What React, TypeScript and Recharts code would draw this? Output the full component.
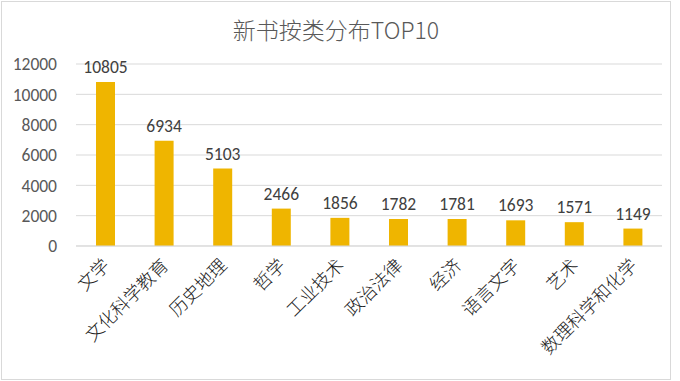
import React from "react";
import { BarChart, Bar, CartesianGrid, XAxis, YAxis, LabelList } from "recharts";

const categories = ["文学", "文化科学教育", "历史地理", "哲学", "工业技术", "政治法律", "经济", "语言文字", "艺术", "数理科学和化学"];
const counts = [10805, 6934, 5103, 2466, 1856, 1782, 1781, 1693, 1571, 1149];
const yTicks = [0, 2000, 4000, 6000, 8000, 10000, 12000];

const data = categories.map((name, i) => ({ name, count: counts[i] }));

const AngledTick = (props: any) => {
  const { x, y, payload } = props;
  return (
    <g transform={`translate(${x - 3},${y + 4})`}>
      <text
        textAnchor="end"
        transform="rotate(-45)"
        fontSize={18}
        fontWeight={300}
        fill="#222"
        fontFamily="'Noto Sans CJK SC', sans-serif"
        dy={12}
      >
        {payload.value}
      </text>
    </g>
  );
};

const App: React.FC = () => {
  return (
    <div
      style={{
        position: "absolute",
        left: 1,
        top: 1,
        width: 668,
        height: 377,
        border: "1px solid #d9d9d9",
        background: "#fff",
        fontFamily: "Calibri, Carlito, 'Liberation Sans', 'Noto Sans CJK SC', sans-serif",
      }}
    >
      <div
        style={{
          position: "absolute",
          top: 10,
          width: "100%",
          textAlign: "center",
          fontSize: 23,
          color: "#595959",
          fontFamily: "'Noto Sans CJK SC', sans-serif",
          fontWeight: 300,
        }}
      >
        新书按类分布TOP10
      </div>
      <BarChart
        width={668}
        height={377}
        data={data}
        margin={{ top: 62, right: 8, left: 0, bottom: 0 }}
        barCategoryGap="34%"
      >
        <CartesianGrid vertical={false} stroke="#d9d9d9" />
        <XAxis
          dataKey="name"
          interval={0}
          tickLine={false}
          axisLine={{ stroke: "#d9d9d9" }}
          height={133}
          tick={<AngledTick />}
        />
        <YAxis
          ticks={yTicks}
          domain={[0, 12000]}
          axisLine={false}
          tickLine={false}
          width={74}
          tick={{ fontSize: 17.5, fill: "#595959", dx: -11 }}
        />
        <Bar dataKey="count" fill="#EFB500" barSize={19} isAnimationActive={false}>
          <LabelList dataKey="count" position="top" offset={9} fontSize={17.5} fill="#404040" />
        </Bar>
      </BarChart>
    </div>
  );
};

export default App;
